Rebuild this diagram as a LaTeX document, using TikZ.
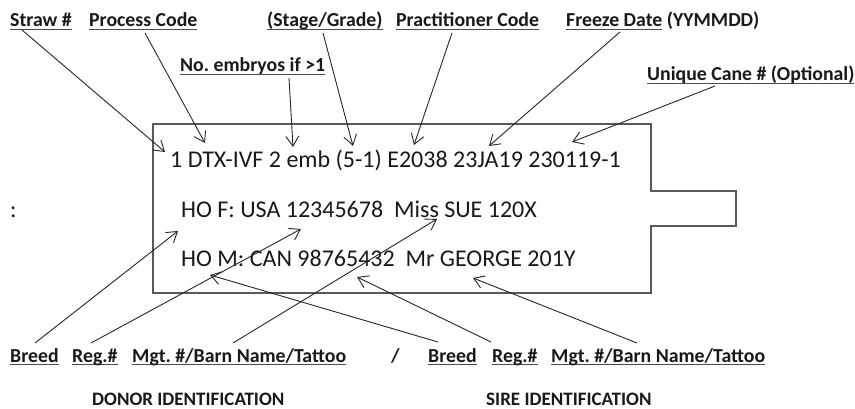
\documentclass[tikz,border=0pt]{standalone}
\usepackage{fontspec}
\setmainfont{Carlito}
\usetikzlibrary{arrows.meta}
\frenchspacing
\newcommand{\ulin}[1]{\setbox0\hbox{#1}\rlap{\color{black!70}\rule[-3pt]{\wd0}{1.1pt}}\box0\relax}
\begin{document}
\begin{tikzpicture}[x=1pt,y=-1pt,
  lbl/.style={font=\fontsize{19.8}{22}\selectfont\bfseries, anchor=base west, inner sep=0pt, text=black!90},
  idlbl/.style={font=\fontsize{19}{22}\selectfont\bfseries, anchor=base west, inner sep=0pt, text=black!90},
  txt/.style={font=\fontsize{24}{28}\selectfont, anchor=base west, inner sep=0pt, text=black!90},
  arr/.style={-{Straight Barb[length=10pt,width=13pt]}, line width=0.9pt, black!85},
  strawbox/.style={draw=black!65, line width=1.6pt}]
\useasboundingbox (0,0) rectangle (855,409);

% straw outline
\draw[strawbox] (153,124) -- (651,124) -- (651,191) -- (736,191) -- (736,226)
  -- (651,226) -- (651,293) -- (153,293) -- cycle;

% straw text
\node[txt] (l1) at (170,168) {1 DTX-IVF 2 emb (5-1) E2038 23JA19 230119-1};
\node[txt] (l2) at (181,218) {HO F: USA 12345678\ \ Miss SUE 120X};
\node[txt] (l3) at (181,266) {HO M: CAN 98765432\ \ Mr GEORGE 201Y};
\node[txt] (colon) at (10,218) {:};

% top labels
\node[lbl] (straw) at (10,27) {\ulin{Straw \#}};
\node[lbl] (proc) at (89,27) {\ulin{Process Code}};
\node[lbl] (stage) at (267,27) {\ulin{(Stage/Grade)}};
\node[lbl] (pract) at (396,27) {\ulin{Practitioner Code}};
\node[lbl] (freeze) at (566,27) {\ulin{Freeze Date} (YYMMDD)};
\node[lbl] (emb) at (180,72) {\ulin{No. embryos if >1}};
\node[lbl] (cane) at (647,81) {\ulin{Unique Cane \# (Optional)}};

% bottom labels
\node[lbl] (dbreed) at (10,362) {\ulin{Breed}};
\node[lbl] (dreg) at (72,362) {\ulin{Reg.\#}};
\node[lbl] (dmgt) at (132,362) {\ulin{Mgt. \#/Barn Name/Tattoo}};
\node[lbl] (slash) at (391,362) {/};
\node[lbl] (sbreed) at (428,362) {\ulin{Breed}};
\node[lbl] (sreg) at (492,362) {\ulin{Reg.\#}};
\node[lbl] (smgt) at (551,362) {\ulin{Mgt. \#/Barn Name/Tattoo}};
\node[idlbl] (donor) at (92,405) {DONOR IDENTIFICATION};
\node[idlbl] (sire) at (486,405) {SIRE IDENTIFICATION};

% arrow end points
\coordinate (s1) at (22,30);   \coordinate (t1) at (165,152);
\coordinate (s2) at (145,33);  \coordinate (t2) at (205,143);
\coordinate (s3) at (289,78);  \coordinate (t3) at (293,147);
\coordinate (s4) at (323,33);  \coordinate (t4) at (353,146);
\coordinate (s5) at (452,33);  \coordinate (t5) at (414,145);
\coordinate (s6) at (620,32);  \coordinate (t6) at (489,146);
\coordinate (s7) at (715,86);  \coordinate (t7) at (572,142);
\coordinate (b1) at (35,343);  \coordinate (u1) at (178,231);
\coordinate (b2) at (91,343);  \coordinate (u2) at (301,229);
\coordinate (b3) at (233,343); \coordinate (u3) at (437,219);
\coordinate (b4) at (438,342); \coordinate (u4) at (210,275);
\coordinate (b5) at (491,342); \coordinate (u5) at (357,277);
\coordinate (b6) at (637,343); \coordinate (u6) at (473,278);

\foreach \a/\b in {s1/t1,s2/t2,s3/t3,s4/t4,s5/t5,s6/t6,s7/t7,
                   b1/u1,b2/u2,b3/u3,b4/u4,b5/u5,b6/u6}
  \draw[arr] (\a) -- (\b);
\end{tikzpicture}
\end{document}
